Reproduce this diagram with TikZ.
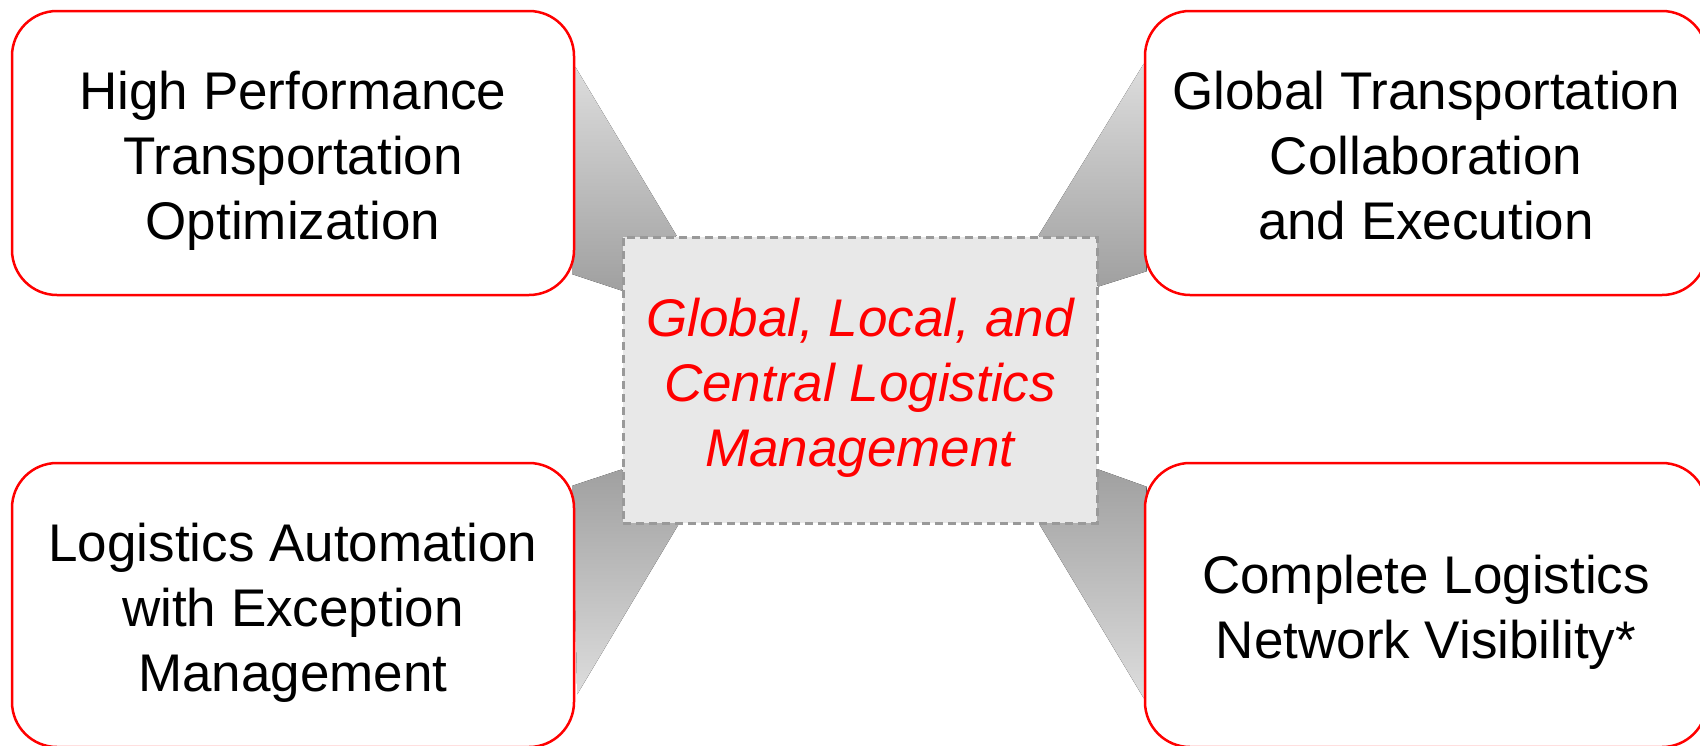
\documentclass[tikz,border=0pt]{standalone}
\usepackage{fontspec}
\setmainfont{Liberation Sans}
\usetikzlibrary{calc,backgrounds}
\definecolor{boxred}{HTML}{FF0000}
\definecolor{hubgray}{HTML}{E8E8E8}
\definecolor{dashgray}{HTML}{999999}
\definecolor{fanlight}{HTML}{DDDDDD}
\definecolor{fandark}{HTML}{A0A0A0}
\newcommand\lnhigh{\rule{0pt}{62pt}}
\newcommand\lnlow{\rule[-19.5pt]{0pt}{19.5pt}}
\tikzset{
  topic/.style={draw=boxred,line width=2.5pt,fill=white,rounded corners=45pt,
    minimum width=562pt,minimum height=284pt,align=center,inner sep=0pt,
    font=\fontsize{53}{65}\selectfont},
  hub/.style={draw=dashgray,line width=3pt,dash pattern=on 8pt off 5pt,fill=hubgray,
    minimum width=474pt,minimum height=286pt,align=center,inner sep=0pt,
    text=boxred,font=\fontsize{53}{65}\selectfont\itshape},
  fandown/.style={top color=fanlight,bottom color=fandark},
  fanup/.style={top color=fandark,bottom color=fanlight}
}

\begin{document}
\begin{tikzpicture}[x=1pt,y=-1pt]
\useasboundingbox (0,0) rectangle (1700,745);
\node[hub] (hub) at (860,380) {\lnhigh Global, Local, and\\Central Logistics\\Management\lnlow};
\node[topic] (hpto) at (293,153) {\lnhigh High Performance\\Transportation\\Optimization\lnlow};
\node[topic] (gtce) at (1426,153) {\lnhigh Global Transportation\\Collaboration\\and Execution\lnlow};
\node[topic] (lae) at (293,605) {\lnhigh Logistics Automation\\with Exception\\Management\lnlow};
\node[topic] (clnv) at (1426,605) {\lnhigh Complete Logistics\\Network Visibility*\lnlow};
\begin{scope}[on background layer]
\fill[fandown] ($(hpto.north east)+(0,57)$) -- ($(hub.north west)+(55,0)$)
  -- ($(hub.north west)+(0,55)$) -- ($(hpto.south east)+(-3,-22)$) -- cycle;
\fill[fandown] ($(gtce.north west)+(0,54)$) -- ($(hub.north east)+(-60,0)$)
  -- ($(hub.north east)+(0,51)$) -- ($(gtce.south west)+(3,-25)$) -- cycle;
\fill[fanup] ($(lae.north east)+(-3,24)$) -- ($(hub.south west)+(0,-55)$)
  -- ($(hub.south west)+(57,0)$) -- ($(lae.south east)+(2,-54)$) -- cycle;
\fill[fanup] ($(clnv.north west)+(3,25)$) -- ($(hub.south east)+(0,-55)$)
  -- ($(hub.south east)+(-59,0)$) -- ($(clnv.south west)+(0,-50)$) -- cycle;
\end{scope}
\end{tikzpicture}
\end{document}
